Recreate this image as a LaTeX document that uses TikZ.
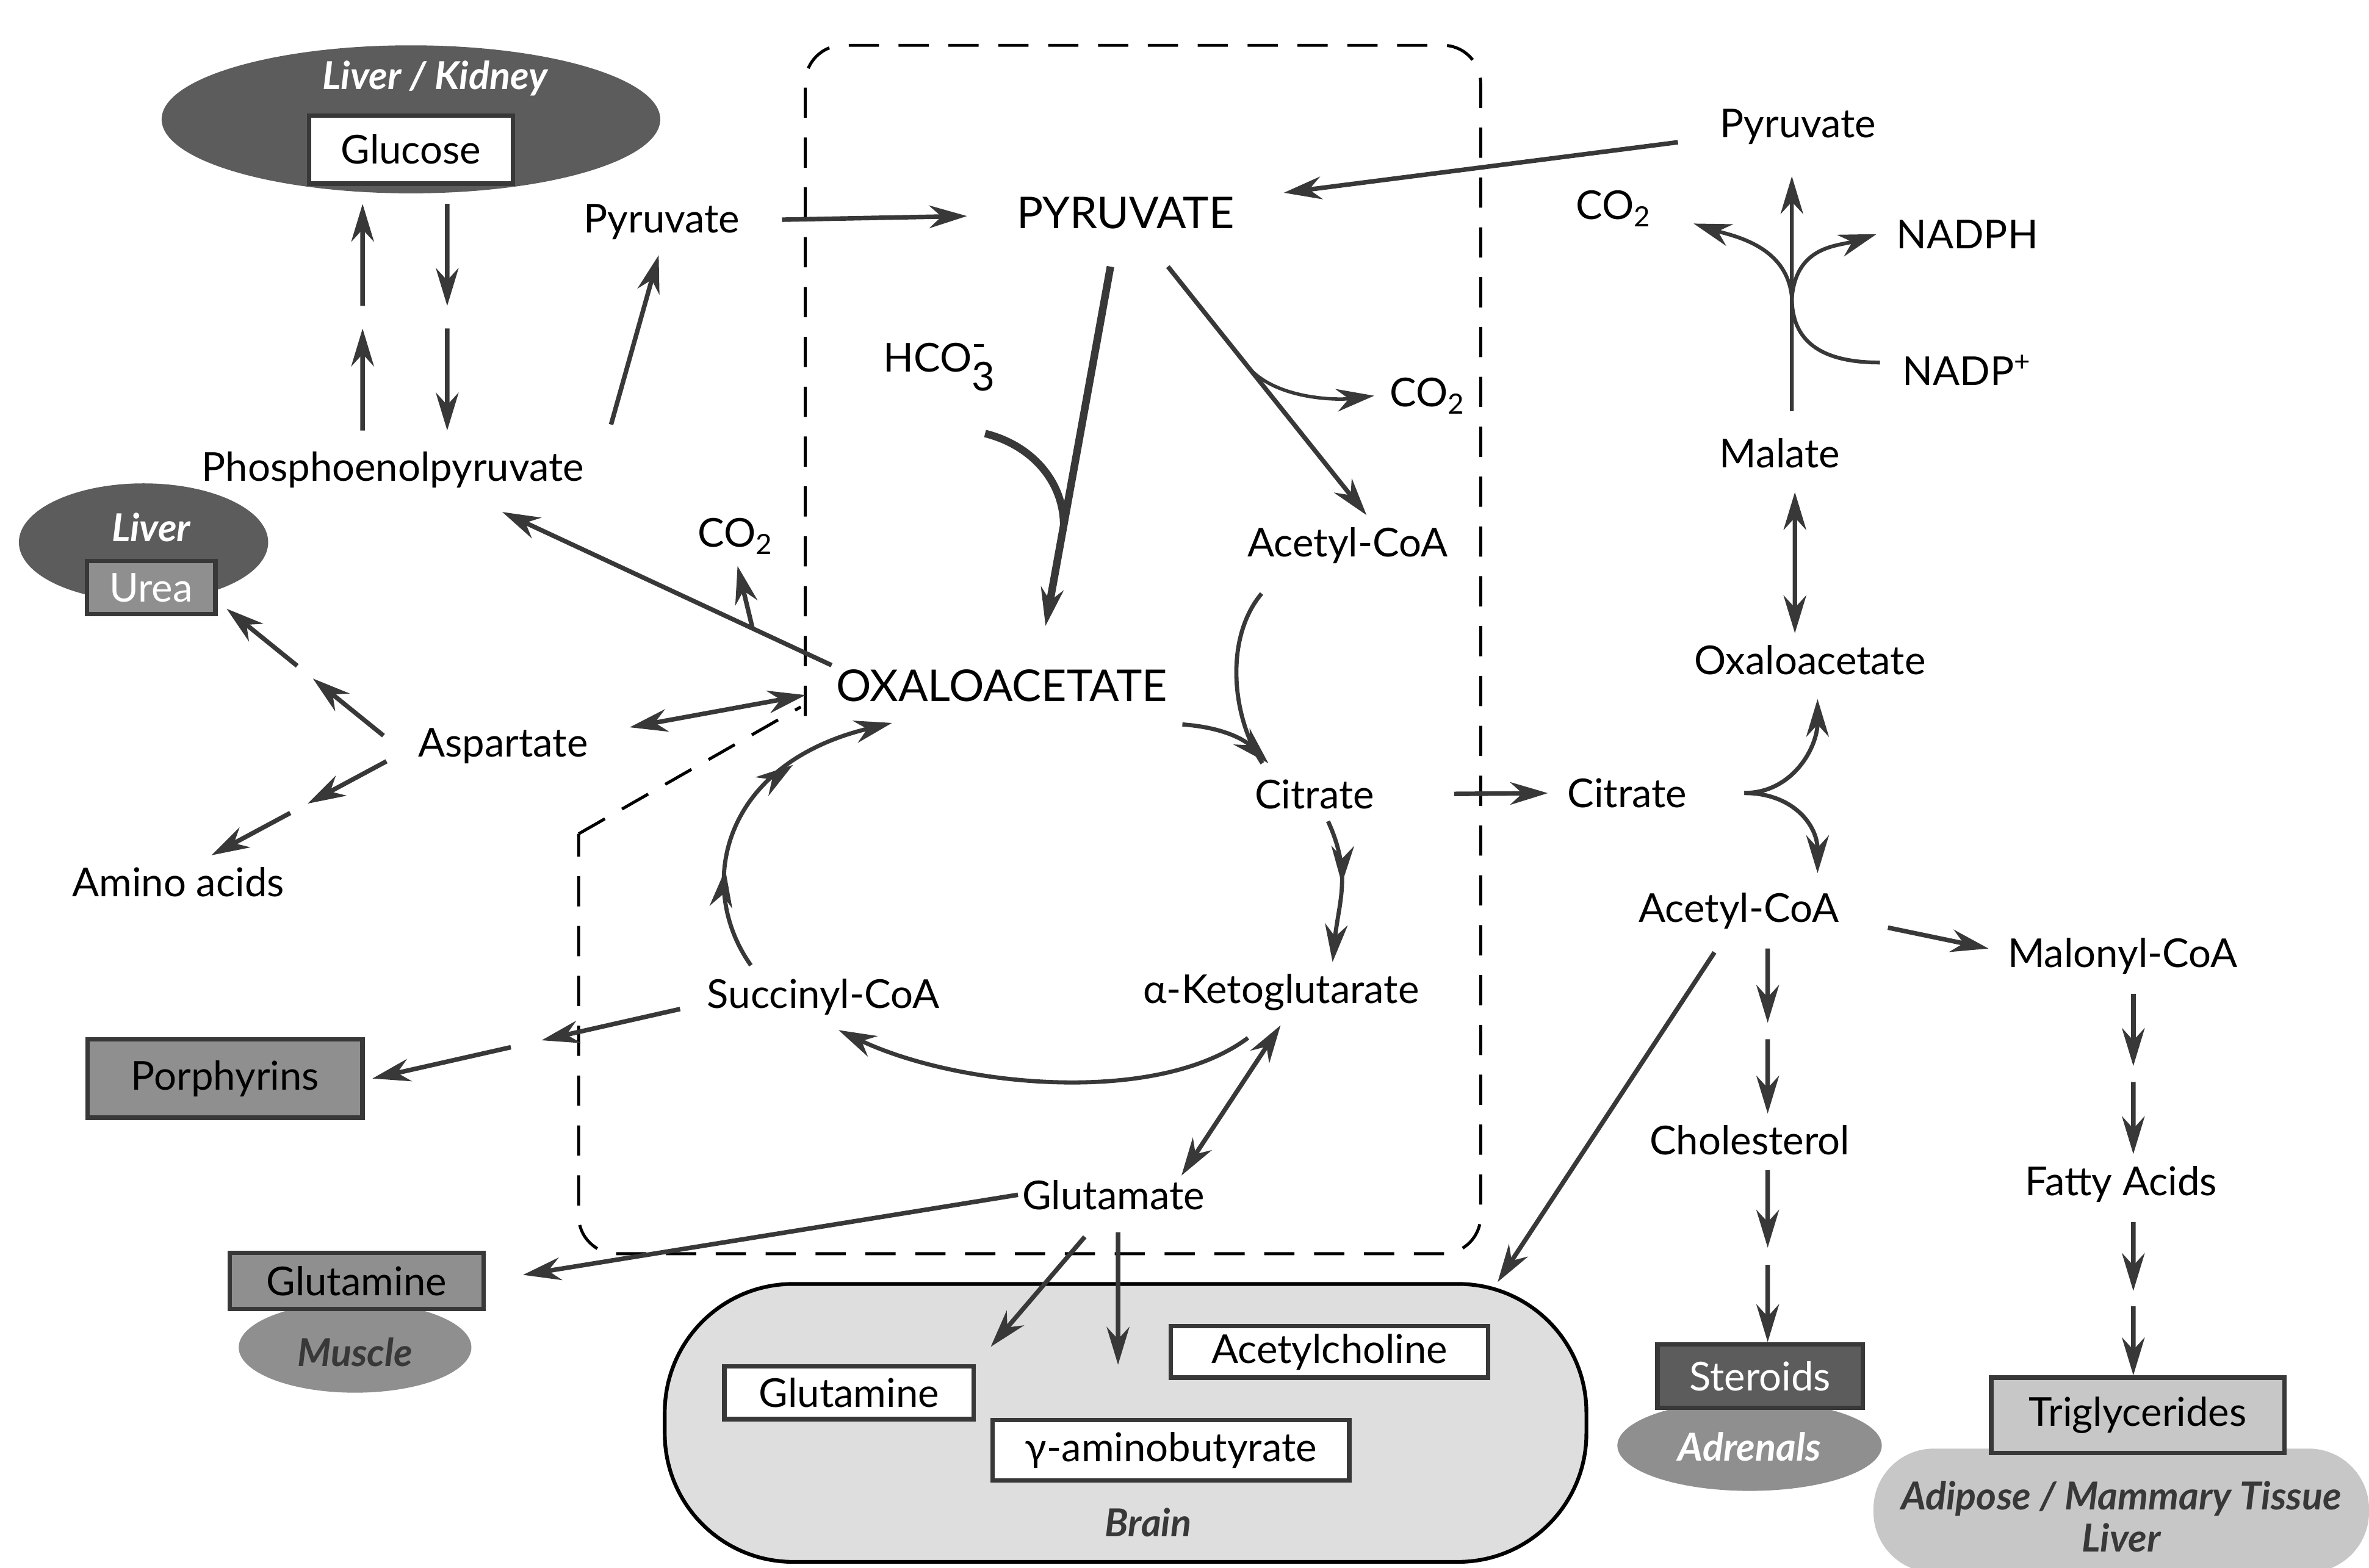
\documentclass[tikz,border=0pt]{standalone}
\usepackage{fontspec}
\setmainfont{Lato}
\usepackage{xcolor}
\usetikzlibrary{positioning}
\usetikzlibrary{arrows.meta}
\usetikzlibrary{calc}
\usetikzlibrary{shapes.geometric}
\usetikzlibrary{decorations.markings}

\definecolor{ink}{gray}{0.22}
\definecolor{darkfill}{gray}{0.36}
\definecolor{midfill}{gray}{0.56}
\definecolor{lightfill}{gray}{0.78}
\definecolor{palefill}{gray}{0.87}

% an arrow broken in two (several steps)
\newcommand{\twostep}[2]{%
  \draw[arr] (#1) -- ($(#1)!0.45!(#2)$);
  \draw[arr] ($(#1)!0.55!(#2)$) -- (#2);
}

\tikzset{
  lbl/.style={font=\fontsize{15}{17}\selectfont, inner sep=1.5pt},
  caps/.style={font=\fontsize{16.5}{18}\selectfont, inner sep=1.5pt},
  organ/.style={font=\fontsize{14.5}{16}\selectfont\bfseries\itshape, inner sep=1pt},
  arr/.style={draw=ink, line width=0.6mm, -{Stealth[length=5mm, width=3mm]}},
  dbl/.style={arr, {Stealth[length=5mm, width=3mm]}-{Stealth[length=5mm, width=3mm]}},
  tca/.style={draw=ink, line width=0.55mm},
  midtip/.style={postaction={decorate, decoration={markings, mark=at position #1 with {\arrow{Stealth[length=5mm, width=3mm]}}}}},
  mito/.style={draw=black, line width=0.4mm, dash pattern=on 4mm off 2.6mm, rounded corners=5mm},
  tissuebox/.style={rectangle, draw=ink, line width=0.6mm, inner sep=0pt, font=\fontsize{15}{17}\selectfont},
  blob/.style={ellipse, inner sep=0pt},
}

\begin{document}
\begin{tikzpicture}[x=0.2mm, y=-0.2mm]
\useasboundingbox (0,0) rectangle (1568,1038);

% organs and tissues
\node[blob, fill=darkfill, minimum width=66mm, minimum height=19.6mm] (livkid) at (272,79) {};
\node[organ, text=white] (livkidT) at (288,52) {Liver / Kidney};
\node[tissuebox, fill=white, minimum width=27mm, minimum height=9mm] (glc) at (272,99) {Glucose};

\node[blob, fill=darkfill, minimum width=33mm, minimum height=15.6mm] (liver) at (95,359) {};
\node[organ, text=white] (liverT) at (100,349) {Liver};
\node[tissuebox, fill=midfill, text=white, minimum width=17mm, minimum height=7mm] (urea) at (100,389) {Urea};

\node[tissuebox, fill=midfill, minimum width=36.4mm, minimum height=10.4mm] (porph) at (149,714) {Porphyrins};

\node[blob, fill=midfill, minimum width=30.8mm, minimum height=12mm] (muscle) at (235,892) {};
\node[organ, text=ink] (muscleT) at (235,895) {Muscle};
\node[tissuebox, fill=midfill, minimum width=33.6mm, minimum height=7.4mm] (glnM) at (236,848) {Glutamine};

\node[draw=black, line width=0.5mm, fill=palefill, rounded corners=17mm, minimum width=122mm, minimum height=36.8mm] (brain) at (745,942) {};
\node[organ, text=ink] (brainT) at (760,1008) {Brain};
\node[tissuebox, fill=white, minimum width=33mm, minimum height=7mm] (glnB) at (562,922) {Glutamine};
\node[tissuebox, fill=white, minimum width=42mm, minimum height=6.8mm] (ach) at (880,895) {Acetylcholine};
\node[tissuebox, fill=white, minimum width=47.2mm, minimum height=8mm] (gaba) at (775,960) {γ-aminobutyrate};

\node[blob, fill=midfill, minimum width=35mm, minimum height=12mm] (adren) at (1158,957) {};
\node[organ, text=white] (adrenT) at (1158,958) {Adrenals};
\node[tissuebox, fill=darkfill, text=white, minimum width=27.2mm, minimum height=8.4mm] (ster) at (1165,911) {Steroids};

\node[fill=lightfill, rounded corners=8mm, minimum width=65.6mm, minimum height=16.4mm] (adip) at (1404,1000) {};
\node[organ, text=ink, align=center] (adipT) at (1404,1004) {Adipose / Mammary Tissue\\Liver};
\node[tissuebox, fill=lightfill, minimum width=38.8mm, minimum height=10mm] (trig) at (1415,937) {Triglycerides};

% mitochondrion
\draw[mito] (533,474) -- (533,30) -- (980,30) -- (980,830) -- (383,830) -- (383,552);
\draw[mito, rounded corners=0pt] (383,552) -- (530,468);

% metabolites
\node[lbl] (pyrL) at (438,147) {Pyruvate};
\node[caps] (PYR) at (745,141) {PYRUVATE};
\node[lbl] (pyrR) at (1190,84) {Pyruvate};
\node[lbl] (co2a) at (1068,138) {CO\textsubscript{2}};
\node[lbl] (nadph) at (1302,155) {NADPH};
\node[lbl] (nadp) at (1302,245) {NADP\textsuperscript{+}};
\node[lbl] (mal) at (1178,300) {Malate};
\node[lbl] (oaaR) at (1198,437) {Oxaloacetate};
\node[lbl] (hco) at (622,243) {HCO$^{\textrm{-}}_{\textrm{3}}$};
\node[lbl] (co2b) at (945,262) {CO\textsubscript{2}};
\node[lbl] (acoaI) at (892,361) {Acetyl-CoA};
\node[lbl] (pep) at (260,311) {Phosphoenolpyruvate};
\node[lbl] (co2c) at (487,355) {CO\textsubscript{2}};
\node[caps] (oaa) at (663,454) {OXALOACETATE};
\node[lbl] (asp) at (333,494) {Aspartate};
\node[lbl] (amino) at (118,584) {Amino acids};
\node[lbl] (citI) at (870,526) {Citrate};
\node[lbl] (citO) at (1077,525) {Citrate};
\node[lbl] (acoaO) at (1151,603) {Acetyl-CoA};
\node[lbl] (malo) at (1405,633) {Malonyl-CoA};
\node[lbl] (succ) at (545,660) {Succinyl-CoA};
\node[lbl] (akg) at (848,657) {α-Ketoglutarate};
\node[lbl] (chol) at (1158,755) {Cholesterol};
\node[lbl] (fatty) at (1404,784) {Fatty Acids};
\node[lbl] (glu) at (737,791) {Glutamate};

% pyruvate in
\draw[arr, shorten <=5mm, shorten >=6mm] (pyrL) -- (PYR);
\draw[arr, shorten <=5mm, shorten >=6mm] (pyrR) -- (PYR);
\draw[arr, shorten >=1.5mm] ([xshift=3mm,yshift=3mm]pep.north east) -- (pyrL.south);

% glucose <-> PEP
\coordinate (gUp0) at (240,285);
\coordinate (gUp1) at (240,135);
\coordinate (gDn0) at (296,135);
\coordinate (gDn1) at (296,285);
\twostep{gUp0}{gUp1}
\twostep{gDn0}{gDn1}

% PYRUVATE out
\coordinate (pc0) at ([xshift=-2mm,yshift=-4.4mm]PYR.south);
\coordinate (pc1) at ([xshift=5.8mm,yshift=5.2mm]oaa.north);
\draw[arr, line width=1mm] (pc0) -- (pc1);
\draw[tca, line width=1mm] ([xshift=6mm,yshift=-5mm]hco.south) .. controls +(32,8) and +(0,-28) .. ($(pc0)!0.72!(pc1)$);
\coordinate (pd0) at ([xshift=5.6mm,yshift=-4.4mm]PYR.south);
\coordinate (pd1) at ([xshift=2.5mm,yshift=1mm]acoaI.north);
\draw[arr] (pd0) -- (pd1);
\draw[arr, line width=0.45mm] ($(pd0)!0.4!(pd1)$) .. controls +(18,22) and +(-25,3) .. ([xshift=-1.5mm]co2b.west);

% OXALOACETATE out
\coordinate (pe1) at ([xshift=-11.4mm,yshift=-2.6mm]pep.south east);
\draw[arr] (oaa.north west) -- (pe1);
\draw[arr, shorten >=1mm] ($(oaa.north west)!0.24!(pe1)$) -- (co2c.south);
\draw[dbl, shorten <=5mm, shorten >=3.5mm] ([yshift=1.6mm]asp.east) -- ([yshift=-0.6mm]oaa.west);

% aspartate and succinyl-CoA
\coordinate (au0) at ([xshift=-4mm,yshift=1.4mm]asp.west);
\coordinate (au1) at ([xshift=1.2mm,yshift=1mm]urea.south east);
\coordinate (aa0) at ([xshift=-3.6mm,yshift=-2mm]asp.west);
\coordinate (aa1) at ([xshift=4.4mm,yshift=1mm]amino.north);
\twostep{au0}{au1}
\twostep{aa0}{aa1}
\coordinate (sp0) at ([xshift=-3mm,yshift=-1.6mm]succ.west);
\coordinate (sp1) at ([xshift=1mm]porph.east);
\twostep{sp0}{sp1}

% TCA cycle
\draw[tca] ([xshift=-11.4mm,yshift=-3.4mm]acoaI.south) .. controls +(-25,30) and +(-20,-30) .. ([xshift=1.6mm,yshift=1.6mm]citI.north west);
\draw[arr, tca] ([xshift=1.4mm,yshift=-2.4mm]oaa.south east) .. controls +(28,2) and +(-15,-15) .. ([xshift=2.4mm,yshift=1.6mm]citI.north west);
\draw[arr, tca, midtip=0.45] ([xshift=1.8mm,yshift=-1mm]citI.south) .. controls +(16,35) and +(4,-40) .. ([xshift=6.8mm,yshift=1mm]akg.north);
\draw[arr, tca] ([xshift=-4.4mm,yshift=-3mm]akg.south) .. controls +(-60,45) and +(80,38) .. ([xshift=2mm,yshift=-1.4mm]succ.south);
\draw[arr, tca, midtip=0.3, midtip=0.68] ([xshift=-9.6mm,yshift=1.2mm]succ.north) .. controls +(-37,-52) and +(-113,27) .. ([xshift=8mm,yshift=-2.2mm]oaa.south west);

% glutamate
\draw[dbl, shorten <=1.6mm] ([xshift=0.8mm]akg.south) -- ([xshift=9mm]glu.north);
\draw[arr, shorten >=5mm] (glu.west) -- (glnM.east);
\draw[arr, shorten >=3mm] ([xshift=-3.8mm,yshift=-3mm]glu.south) -- (glnB.north east);
\draw[arr] ([xshift=0.6mm,yshift=-2.4mm]glu.south) -- ([xshift=-7mm,yshift=7mm]gaba.north);

% citrate export
\draw[arr, shorten <=10mm, shorten >=2mm] (citI.east) -- (citO.west);
\coordinate (cfork) at ([xshift=7mm]citO.east);
\draw[arr, tca] (cfork) .. controls +(32,0) and +(0,32) .. ([xshift=1mm,yshift=-2.6mm]oaaR.south);
\draw[arr, tca] (cfork) .. controls +(32,0) and +(0,-32) .. ([xshift=10.4mm,yshift=2mm]acoaO.north);

% malic enzyme
\draw[dbl, shorten <=2.6mm, shorten >=1mm] ([xshift=2mm]mal.south) -- ([xshift=-2mm]oaaR.north);
\coordinate (mfork) at ([xshift=1.6mm,yshift=18mm]mal.north);
\draw[arr, line width=0.5mm] ([xshift=1.6mm,yshift=3mm]mal.north) -- ([xshift=-0.8mm,yshift=-3.6mm]pyrR.south);
\draw[arr, line width=0.5mm] (mfork) .. controls +(-3,-35) and +(25,8) .. ([xshift=5mm,yshift=-2mm]co2a.east);
\draw[arr, line width=0.5mm] (mfork) .. controls +(3,-35) and +(-25,8) .. ([xshift=-2mm]nadph.west);
\draw[tca, line width=0.5mm] ([xshift=-2.4mm,yshift=1mm]nadp.west) .. controls +(-40,0) and +(0,28) .. (mfork);

% lipids
\draw[arr, shorten <=6mm, shorten >=2mm] ([yshift=-1mm]acoaO.east) -- ([yshift=0.6mm]malo.west);
\coordinate (ac0) at ([xshift=3.8mm,yshift=-2mm]acoaO.south);
\coordinate (ac1) at ([xshift=2.4mm,yshift=1mm]chol.north);
\twostep{ac0}{ac1}
\coordinate (ch0) at ([xshift=2.4mm,yshift=-1.4mm]chol.south);
\coordinate (ch1) at ([xshift=1mm]ster.north);
\twostep{ch0}{ch1}
\coordinate (ml0) at ([xshift=1.4mm,yshift=-2mm]malo.south);
\coordinate (ml1) at ([xshift=1.6mm,yshift=1mm]fatty.north);
\twostep{ml0}{ml1}
\coordinate (fa0) at ([xshift=1.6mm,yshift=-2mm]fatty.south);
\coordinate (fa1) at ([xshift=-0.6mm]trig.north);
\twostep{fa0}{fa1}
\draw[arr, shorten <=3mm] ([xshift=-1.6mm]acoaO.south) -- ([xshift=-12mm]brain.north east);

\end{tikzpicture}
\end{document}
